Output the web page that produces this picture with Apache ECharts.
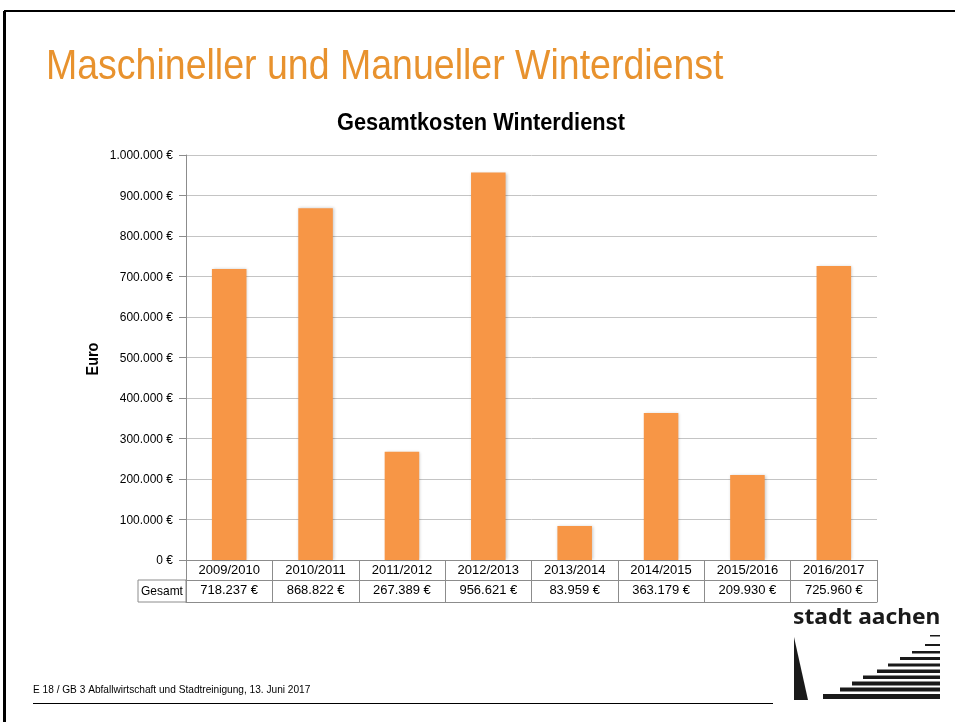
<!DOCTYPE html>
<html>
<head>
<meta charset="utf-8">
<script src="https://cdn.jsdelivr.net/npm/echarts@6/dist/echarts.min.js"></script>
<style>
  html, body { margin: 0; padding: 0; background: #fff; }
  #chart { width: 955px; height: 722px; }
</style>
</head>
<body>
<div id="chart"></div>
<script>
// Gesamtkosten Winterdienst je Saison
var seasons = ['2009/2010', '2010/2011', '2011/2012', '2012/2013', '2013/2014', '2014/2015', '2015/2016', '2016/2017'];
var costs = [718237, 868822, 267389, 956621, 83959, 363179, 209930, 725960];
var yTicks = [0, 100000, 200000, 300000, 400000, 500000, 600000, 700000, 800000, 900000, 1000000];

var sans = '"Liberation Sans", Arial, sans-serif';
var gray = '#8c8c8c';
var black = '#1a1a1a';

// 1234567 -> "1.234.567 €"
function euro(v) {
  return String(v).replace(/\B(?=(\d{3})+(?!\d))/g, '.') + ' €';
}

var chart = echarts.init(document.getElementById('chart'));

chart.setOption({
  animation: false,
  textStyle: { fontFamily: sans },
  grid: {
    left: 186,
    right: 78,
    top: 155,
    bottom: 162
  },
  xAxis: [
    {
      type: 'category',
      data: seasons,
      axisLine: { lineStyle: { color: gray } },
      axisTick: { show: true, length: 42, lineStyle: { color: gray } },
      axisLabel: { color: '#000', fontSize: 13, margin: 4 }
    },
    {
      // zweite Tabellenzeile mit den Beträgen
      type: 'category',
      position: 'bottom',
      offset: 20,
      data: costs.map(euro),
      axisLine: { show: true, lineStyle: { color: gray } },
      axisTick: { show: false },
      axisLabel: { color: '#000', fontSize: 13, margin: 4 }
    },
    {
      type: 'category',
      position: 'bottom',
      offset: 42,
      data: seasons,
      axisLine: { show: true, lineStyle: { color: gray } },
      axisTick: { show: false },
      axisLabel: { show: false }
    }
  ],
  yAxis: {
    type: 'value',
    min: yTicks[0],
    max: yTicks[yTicks.length - 1],
    interval: yTicks[1] - yTicks[0],
    axisLine: { show: true, lineStyle: { color: gray } },
    axisTick: { show: true, length: 7, lineStyle: { color: gray } },
    axisLabel: { show: false },
    splitLine: { lineStyle: { color: '#c4c4c4', width: 1 } }
  },
  series: [
    {
      type: 'bar',
      xAxisIndex: 0,
      data: costs,
      barWidth: '40%',
      itemStyle: {
        color: '#f79646',
        shadowColor: 'rgba(0,0,0,0.22)',
        shadowBlur: 3,
        shadowOffsetX: 1,
        shadowOffsetY: 0
      }
    }
  ]
});

// schmale Schrift (Arial Narrow) über scaleX nachgebildet
var graphics = [
  // Folienrahmen
  { type: 'line', shape: { x1: 4, y1: 11, x2: 955, y2: 11 }, style: { stroke: '#000', lineWidth: 2 } },
  { type: 'line', shape: { x1: 4.5, y1: 11, x2: 4.5, y2: 722 }, style: { stroke: '#000', lineWidth: 3 } },
  {
    type: 'text', x: 46, y: 46.5, scaleX: 0.893,
    style: { text: 'Maschineller und Manueller Winterdienst', fill: '#e8922e', font: '42px ' + sans, verticalAlign: 'top' }
  },
  {
    type: 'text', x: 481, y: 112, scaleX: 0.947,
    style: { text: 'Gesamtkosten Winterdienst', fill: '#000', font: 'bold 23px ' + sans, align: 'center', verticalAlign: 'top' }
  },
  {
    type: 'text', x: 94, y: 359, rotation: Math.PI / 2, scaleX: 0.9,
    style: { text: 'Euro', fill: '#000', font: 'bold 16px ' + sans, align: 'center', verticalAlign: 'middle' }
  },
  // "Gesamt" Zelle
  { type: 'rect', shape: { x: 138, y: 580, width: 48, height: 22 }, style: { fill: 'none', stroke: gray, lineWidth: 1 } },
  {
    type: 'text', x: 162, y: 591, scaleX: 0.92,
    style: { text: 'Gesamt', fill: '#000', font: '13px ' + sans, align: 'center', verticalAlign: 'middle' }
  },
  // Fußzeile
  {
    type: 'text', x: 33, y: 690, scaleX: 0.92,
    style: { text: 'E 18 / GB 3 Abfallwirtschaft und Stadtreinigung, 13. Juni 2017', fill: '#000', font: '11px ' + sans, verticalAlign: 'middle' }
  },
  { type: 'line', shape: { x1: 33, y1: 703.5, x2: 773, y2: 703.5 }, style: { stroke: '#000', lineWidth: 1 } },
  // Logo stadt aachen
  {
    type: 'text', x: 793, y: 607, scaleX: 1.035,
    style: { text: 'stadt aachen', fill: black, font: 'bold 22px "Noto Sans", ' + sans, verticalAlign: 'top' }
  },
  { type: 'polygon', shape: { points: [[794, 637], [794, 700], [808, 700]] }, style: { fill: black } },
  { type: 'rect', shape: { x: 930, y: 635, width: 10, height: 1.5 }, style: { fill: black } },
  { type: 'rect', shape: { x: 925, y: 644, width: 15, height: 2 }, style: { fill: black } },
  { type: 'rect', shape: { x: 912, y: 651, width: 28, height: 2.5 }, style: { fill: black } },
  { type: 'rect', shape: { x: 900, y: 657, width: 40, height: 3 }, style: { fill: black } },
  { type: 'rect', shape: { x: 888, y: 663.5, width: 52, height: 3 }, style: { fill: black } },
  { type: 'rect', shape: { x: 877, y: 669.5, width: 63, height: 3.5 }, style: { fill: black } },
  { type: 'rect', shape: { x: 863, y: 675.5, width: 77, height: 3.5 }, style: { fill: black } },
  { type: 'rect', shape: { x: 852, y: 681.5, width: 88, height: 4 }, style: { fill: black } },
  { type: 'rect', shape: { x: 840, y: 687.5, width: 100, height: 4 }, style: { fill: black } },
  { type: 'rect', shape: { x: 823, y: 694, width: 117, height: 5 }, style: { fill: black } }
];

// y-Achsenbeschriftung über die Skala der Achse positioniert
var axisX = chart.convertToPixel({ xAxisIndex: 0 }, 0) - (chart.convertToPixel({ xAxisIndex: 0 }, 1) - chart.convertToPixel({ xAxisIndex: 0 }, 0)) / 2;
yTicks.forEach(function (v) {
  graphics.push({
    type: 'text',
    x: axisX - 13,
    y: chart.convertToPixel({ yAxisIndex: 0 }, v) + 0.5,
    scaleX: 0.92,
    style: { text: euro(v), fill: '#000', font: '13px ' + sans, align: 'right', verticalAlign: 'middle' }
  });
});

chart.setOption({ graphic: graphics });
</script>
</body>
</html>
